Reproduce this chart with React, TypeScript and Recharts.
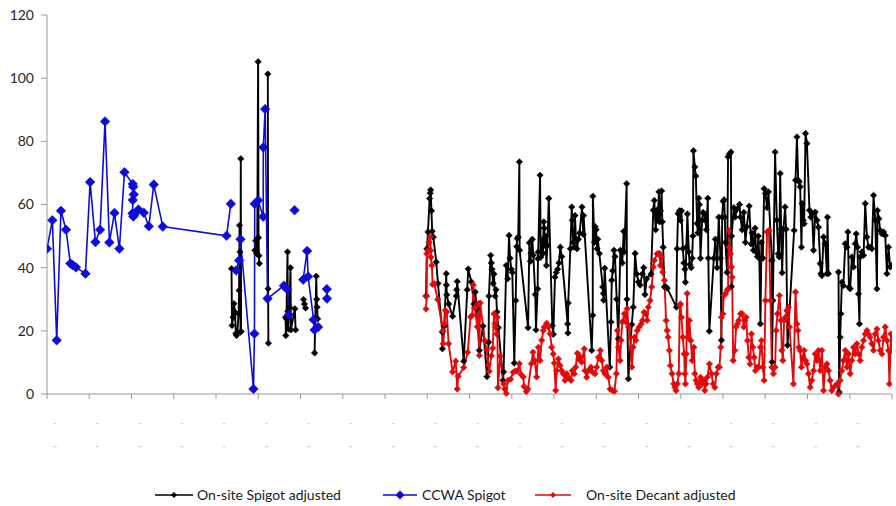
import { CartesianGrid, Line, LineChart, XAxis, YAxis } from "recharts";

// day index along the (unlabelled) date axis, value
type Row = [number, number | null];

const ccwaSpigot: Row[] = [
  [0, 46], [3.8, 55], [6.9, 17], [9.9, 58], [13.5, 52], [16.6, 41.3], [18.3, 40.8], [20.6, 40.1],
  [27.3, 38.1], [30.6, 67.1], [34.4, 48.1], [37.7, 52], [41.2, 86.3], [44.3, 48], [47.9, 57.3],
  [51.4, 46], [55, 70.2], [60.9, 66.5], [61.2, 65.6], [61.6, 63.2], [60.9, 61.4], [60.7, 57.2],
  [61.3, 56.2], [62, 56.7], [64.9, 58.4], [68.7, 57.4], [72.3, 53.1], [75.8, 66.3], [82.2, 53],
  [127.5, 50.1], [130.5, 60.2], [132, null], [134.3, 39.1], [136.4, 42.3], [137.4, 49],
  [146.6, 1.6], [147.3, 19.1], [147.5, 60.2], [149.9, 61.3], [153.5, 56.1], [153.6, 78.1],
  [154.9, 90.2], [156.6, 30.2], [168.2, 34.3], [170.5, 33.2], [171.9, 25.1], [173.5, null],
  [175.8, 58.2], [178, null], [181.9, 36.2], [184.7, 45.3], [185.4, 37.2], [189.3, 23.5],
  [190, 20.3], [192.5, 21.2], [195, null], [198.7, 33.2], [198.8, 30.2],
];

const spigotFirstRun: Row[] = [
  [131, 39.7], [131.4, 21.7], [132.1, 24.3], [132.8, 28.6], [133.5, 25.9], [134.1, 19.1],
  [134.6, 18.5], [135.2, 19.5], [136, 25.4], [136.4, 32.8], [136.7, 53.4], [137, 45],
  [137.4, 19.6], [137.6, 74.5], [137.8, 19.8], [140, null],
  [147.6, 45.5], [148.2, 48.5], [148.8, 44.5], [149.3, 49.2], [149.9, 105.2], [150.2, 49.5],
  [150.5, 43.8], [150.8, 41.3], [153, null],
  [156.8, 101.3], [157, 33.3], [157.2, 16.1], [160, null],
  [169.4, 24.3], [169.6, 18.5], [170, 23.8], [170.8, 45], [171, 26.2], [171.3, 20.6],
  [172.2, 27.5], [172.9, 40], [173.2, 20.3], [176, 27], [176.5, 20.3], [179, null],
  [182.2, 29.9], [182.8, 28.5], [183.6, 27.2], [186, null],
  [190, 13], [190.5, 24], [191.2, 37.3], [191.5, 30], [191.8, 27.5], [192.2, 23.8], [230, null],
];

const spigotSecondRun: Row[] = [
  [269.1, 31], [269.8, 46], [270.5, 51.3], [271.7, 61.9], [272.1, 63.6], [272.4, 64.6], [273, 58],
  [273.5, 51.5], [274.3, 49.7], [276.4, 41.8], [277.6, 35], [280.7, 19.6], [280.8, 14.3],
  [282.1, 21.5], [283.5, 38.1], [283.6, 34.5], [283.9, 31.4], [285.2, 28.5], [288, 24.6],
  [290.6, 31], [290.9, 33], [291.3, 35.6], [295.9, 10.4], [298.4, 33], [299.1, 39.6],
  [301.3, 35.5], [303.2, 28.5], [304.1, 32.3], [305.1, 27], [307, 13.8], [309.6, 21.5],
  [312.4, 5.5], [313.6, 16.4], [313.8, 31], [315, 43.9], [315.5, 41.5], [316, 39.5],
  [316.7, 35], [317.4, 38], [318.1, 31], [318.8, 33], [319.5, 26], [320.5, 21], [323.8, 4.3],
  [324.2, 7], [326.1, 40.7], [327.1, 36.5], [328.1, 50.2], [328.8, 43], [329.7, 39.5],
  [330.4, 38.5], [331.8, 9.8], [332.8, 29.6], [333.5, 46.7], [333.9, 49.2], [334.6, 49.7],
  [335.4, 73.5], [335.6, 45.5], [341.6, 21], [342.5, 47.9], [343.2, 42], [343.7, 44.5],
  [344.6, 49], [345.3, 44], [346.7, 31.5], [347.2, 20.3], [348.4, 33.3], [348.6, 42.8],
  [348.8, 45], [350.1, 69.3], [350.6, 43.3], [351.3, 45], [351.7, 48.7], [352.2, 44.5],
  [352.7, 54.5], [353.1, 52.5], [353.6, 47], [354.1, 50], [354.6, 40.7], [355.3, 47],
  [356.3, 61.9], [358.8, 21.7], [359.5, 18.9], [360.7, 37], [361.6, 38.5], [362.6, 39.5],
  [363.5, 41.5], [364.5, 46.5], [365.5, 43.5], [369.7, 22.2], [369.9, 19.3], [370.1, 28.8],
  [371.6, 46], [372.6, 59.2], [373, 55], [373.7, 48], [374.4, 46.5], [374.9, 56.5], [375.6, 49],
  [376.3, 46], [377.3, 49], [378.2, 51], [379.9, 59.2], [380.8, 50.5], [381, 56.5],
  [386.8, 13.8], [387.5, 24.9], [387.6, 62.6], [388.7, 48], [389.2, 53], [389.9, 52],
  [390.6, 46], [391.1, 49], [392.2, 44.5], [394.6, 33.9], [395, 31.8], [395.3, 29.7], [396, 39.8],
  [399.6, 8.5], [400.5, 22.8], [401, 36], [401.7, 39], [402.6, 45.5], [403.3, 43.5], [404.5, 30],
  [405.7, 17.5], [407.1, 45.5], [408.5, 41.5], [409.5, 51.5], [409.9, 45], [411.6, 66.6],
  [411.8, 30], [412.8, 4.8], [415.2, 22], [416.3, 27.5], [417.6, 44.5], [418.8, 38],
  [419.9, 35.5], [421.1, 34.5], [422.7, 38], [423.7, 40], [424.6, 31.5], [425.8, 36.5],
  [428.9, 38], [430.5, 58.2], [431.2, 61.3], [432.2, 52], [432.9, 58.2], [433.6, 55], [434.5, 64],
  [435, 54.5], [435.7, 58], [436.4, 64.3], [436.9, 54.5], [437.5, 46.5], [438.4, 33.9],
  [439.3, 34], [440.4, 33.5], [446.9, 27.5], [447.4, 46], [448.1, 57.1], [449, 58], [449.8, 55],
  [450.5, 58], [451.5, 46], [452.2, 41.5], [452.9, 39.5], [453.3, 35.4], [454, 46.5], [454.7, 57],
  [455.7, 45], [456.4, 41], [457.4, 40], [458.1, 43], [458.6, 50], [459, 77], [460, 71.9],
  [460.7, 69], [461.6, 54], [462.1, 51], [462.8, 62], [463.3, 60], [464, 43], [465.2, 55],
  [465.9, 57.5], [466.8, 57], [467.5, 55], [468.2, 52], [469.2, 62], [469.6, 43], [470.3, 19.9],
  [473.5, 43], [474.6, 49], [475.8, 40], [477, 56], [478.2, 43], [478.9, 17], [479.4, 56],
  [480.1, 61], [480.8, 61.5], [481.3, 56], [481.7, 48], [482.9, 38.5], [483.6, 75.1],
  [484.6, 76], [485.6, 76.6], [486, 34], [486.1, 50], [487.7, 59], [488.6, 56], [490, 58.5],
  [491.7, 60], [492.4, 56], [493.6, 52], [494.8, 57.5], [495.9, 48], [496.9, 53], [498.6, 59.5],
  [500, 47.5], [500.7, 51], [501.6, 45.5], [502.8, 52.5], [503.5, 45], [504.4, 43.5],
  [505.1, 50], [505.8, 43], [506.6, 22.2], [507.3, 48], [508.3, 43], [509.2, 65], [510.1, 63.5],
  [511.3, 59], [512.3, 64], [514.7, 42.3], [514.8, 10.1], [515.4, 29.6], [517, 76.6],
  [518.2, 55], [519.2, 44.4], [519.9, 43.4], [520.6, 69.8], [521.3, 52.2], [522, 38.4],
  [522.9, 52.2], [524.1, 59.2], [524.8, 52.2], [525.8, 15.4], [530.5, 51.8], [531.5, 67.7],
  [532.5, 81.4], [533.4, 67.7], [534.1, 67.2], [534.8, 65.6], [535.7, 46.5], [536.2, 60.3],
  [536.9, 55], [537.6, 53.9], [538.6, 82.5], [539.6, 79.3], [541.4, 58.2], [542.4, 56],
  [543.3, 57.1], [544.3, 45.5], [545.5, 57.6], [546.7, 55], [547.8, 52.8], [549, 41.3],
  [549.5, 38.1], [550.2, 37.5], [551.4, 49.7], [552.6, 47.6], [553.8, 38.1], [554.2, 56],
  [554.9, 38.1], [558, null], [562, 38.6], [562.5, 0.6], [563.2, 18], [563.7, 25.4],
  [564.4, 35.4], [565.5, 34.3], [566.8, 47.6], [568, 46.5], [568.7, 51.3], [569.4, 33.8],
  [570.3, 33.3], [571.5, 43.4], [572.7, 40.2], [573.9, 47.6], [574.6, 50.7], [575.5, 46.5],
  [576.2, 31.7], [576.9, 22.2], [577.4, 43.4], [578.6, 45], [579.8, 43.9], [581, 60.3],
  [582.2, 49.7], [583.3, 46.5], [584.5, 46.5], [585.7, 46], [586.9, 62.9], [588.1, 55],
  [589.3, 33.3], [589.7, 58.1], [590.7, 55.5], [591.6, 51.8], [592.8, 50.7], [594, 51.3],
  [595.2, 50.2], [596.4, 38.1], [597.5, 46.5], [598.7, 40.2], [599.9, 40.7],
];

const onsiteDecant: Row[] = [
  [269.1, 26.9], [269.6, 31], [269.7, 44.4], [270.5, 45.4], [271.2, 48], [272.1, 49.8],
  [272.5, 45.4], [272.6, 43.3], [273.3, 40.7], [273.8, 34.7], [275, 34.9], [277.4, 29.9],
  [281.1, 20.1], [281.3, 15.9], [282.1, 22.2], [282.8, 26.5], [283.8, 26], [285.2, 15.9],
  [288, 7], [290.2, 10.4], [291.3, 1.6], [292, 5.6], [295.9, 8.4], [298.7, 13.2], [300.8, 24.4],
  [302, 24.9], [302.7, 34.5], [303.7, 27.3], [305.5, 21.3], [306.2, 28.6], [307, 12.2],
  [307.6, 28.8], [310.8, 16.9], [312.2, 14], [313.3, 9.3], [314, 7.2], [315.5, 12.1],
  [316.5, 14.5], [317.4, 25.4], [318.1, 22.2], [318.6, 21.1], [319.3, 19], [319.7, 24.3],
  [320.2, 2], [321.9, 12], [324.3, 3.2], [325, 1.6], [326.1, 0.2], [327.3, 4.3], [329.2, 4.7],
  [331.1, 6.9], [332.5, 7.3], [333.9, 7.3], [335.4, 9.6], [336.6, 6.2], [338.2, 5.4],
  [338.7, 2.4], [340.3, 0.8], [341.5, 1.6], [343.9, 9.6], [345.1, 13.2], [346.3, 10.6],
  [347.7, 5.4], [348.9, 14.8], [350.1, 10.6], [351.3, 17], [352.4, 20.1], [353.1, 21.2],
  [354.8, 22.4], [356, 21.2], [357.2, 19.1], [358.4, 14.8], [359.5, 12.7], [360.2, 9.8],
  [361.2, 1.1], [361.9, 7.4], [363.1, 11.1], [364.3, 9], [365.5, 7.4], [366.6, 6.4], [367.8, 4.3],
  [369, 6.4], [370.2, 5.3], [372.1, 4.3], [373, 7.4], [374.4, 6.4], [375.4, 8.5], [376.6, 12.9],
  [377.6, 11.1], [378.5, 11.8], [379.7, 10.1], [381.5, 14.3], [382, 7.4], [383.2, 5.3],
  [384.4, 7.4], [386.3, 8.5], [387.5, 6.9], [389.1, 6.4], [390.3, 8.5], [391.5, 11.6],
  [392.9, 13.8], [393.9, 10.6], [395, 7.4], [396.2, 6.4], [397.5, 8.5], [398.6, 5.3],
  [399.8, 1.6], [401.4, 1.1], [402.9, 0.9], [404.3, 6.4], [405, 20.1], [405.7, 14.8],
  [406.9, 10.6], [407.6, 17], [408.5, 22.8], [410, 25.4], [411, 22.8], [411.9, 27], [412.9, 21.2],
  [414.1, 18], [415.3, 8.5], [416.2, 14.8], [417.2, 18], [418.1, 17], [419.1, 20.1],
  [420.5, 21.2], [421.9, 22.2], [422.8, 23.3], [424, 25.9], [425.2, 25.4], [426.1, 23.3],
  [427, 27.5], [428.2, 29.6], [429.4, 33.9], [430.5, 40.2], [431.3, 42.3], [433.2, 44.4],
  [434.8, 44.6], [435.5, 40.7], [436.2, 43.4], [437.2, 38.6], [438.4, 36], [439.6, 23.3],
  [440.3, 20.1], [441, 18], [441.9, 13.8], [442.6, 9], [443.8, 6.4], [445, 3.2], [445.8, 2.1],
  [446.7, 1.1], [447.6, 3.2], [448.6, 6.4], [449.3, 28], [449.8, 28.5], [450.5, 24.3],
  [451.5, 18], [452.4, 12.7], [452.9, 6.4], [453.3, 3.2], [454, 12.7], [454.5, 31.8],
  [455.2, 18], [456.1, 23.3], [457.1, 16.9], [458.1, 10.6], [459.3, 14.8], [460, 6.4],
  [460.9, 4.3], [461.8, 3.2], [462.8, 2.1], [464, 5.3], [465.2, 3.2], [466.4, 4.3], [467.1, 1.1],
  [468, 3.2], [468.9, 5.3], [470.4, 9.5], [471.8, 6.4], [473, 3.2], [474.2, 2.1], [475.3, 6.4],
  [476.5, 8.5], [477.5, 8.5], [478.4, 14.8], [478.9, 24.3], [479.9, 25.4], [480.6, 31.2],
  [481.7, 31.7], [482.9, 32.8], [483.6, 33.3], [484.1, 51.8], [484.5, 46.5], [485.3, 44.4],
  [486, 40.2], [486.5, 37], [487.2, 10.6], [488.4, 13.8], [489.3, 21.2], [490.3, 22.2],
  [491.2, 23.3], [492.4, 25.4], [493.6, 25.4], [494.8, 21.2], [495.5, 23.3], [496.4, 24.3],
  [497.4, 16.9], [498.3, 11.6], [499.3, 9.5], [500.2, 19], [501.2, 14.8], [502.1, 11.6],
  [503, 7.4], [504.2, 8.5], [505.4, 8.5], [506.6, 14.8], [507.3, 16.9], [508.3, 8.5],
  [509.2, 4.3], [510.1, 29.6], [511.3, 51.3], [512.6, 51.8], [513.7, 29.6], [514.7, 8.5],
  [515.8, 6.4], [517, 8.5], [517.7, 20.1], [518.7, 25.4], [520.1, 31.2], [521.1, 23.3],
  [521.8, 13.8], [522.5, 10.6], [523.4, 23.3], [524.3, 24.3], [525.3, 26.4], [526.5, 27.5],
  [527.2, 21.2], [530, 3.2], [531.5, 32.3], [532.5, 22.2], [533.2, 20.1], [533.9, 14.8],
  [534.8, 13.8], [535.7, 8.5], [536.7, 11.6], [537.6, 13.8], [538.6, 10.6], [539.6, 9.5],
  [540.7, 6.4], [541.9, 2.1], [543.1, 4.3], [544.3, 7.4], [545.5, 12.7], [546.7, 10.6],
  [547.8, 13.8], [549, 7.4], [550.2, 13.8], [551.4, 1.1], [552.6, 8.5], [553.8, 9.5],
  [554.9, 7.4], [556.1, 4.3], [557.3, 1.1], [558.5, 2.1], [560.9, 3.2], [562, 0], [563.2, 4.3],
  [564.4, 7.4], [565.5, 10.6], [566.8, 13.8], [568, 8.5], [569.1, 12.7], [570.3, 6.4],
  [571.5, 10.6], [572.7, 14.8], [573.9, 12.7], [575.1, 15.9], [576.2, 12.7], [577.4, 10.6],
  [578.6, 14.8], [579.8, 16.9], [581, 19], [582.2, 20.1], [583.3, 19], [584.5, 18],
  [585.7, 15.9], [586.9, 13.8], [588.1, 19], [589.3, 20.6], [590.4, 16.9], [591.6, 13.8],
  [592.8, 12.7], [594, 18], [595.2, 21.2], [596.4, 16.9], [597.5, 13.8], [598.2, 3.2],
  [599.2, 19], [599.9, 13.8],
];

const xTicks = [0, 30, 60, 90, 120, 150, 180, 210, 240, 270, 300, 330, 360, 390, 420, 450, 480, 510, 540, 570, 600];
const yTicks = [0, 20, 40, 60, 80, 100, 120];

const BLACK = "#000000";
const BLUE = "#0d0dd6";
const RED = "#e10a0a";
const AXIS = "#9a9a9a";
const FONT = "Lato, 'Liberation Sans', sans-serif";

const toPoints = (rows: Row[]) => rows.map(([day, value]) => ({ day, value }));

const diamondDot = (r: number, color: string) => (props: any) => {
  const { cx, cy, index } = props;
  if (cx == null || cy == null || props.value == null) return <g key={`e-${index}`} />;
  return (
    <polygon
      key={`d-${index}`}
      points={`${cx},${cy - r} ${cx + r},${cy} ${cx},${cy + r} ${cx - r},${cy}`}
      fill={color}
      stroke={color}
      strokeWidth={0.6}
    />
  );
};

// the date labels under the axis come out as two rows of faint dashes
function DateTick(props: any) {
  const { x, y, payload } = props;
  if (payload.value >= 600) return <g />;
  return (
    <g fill="#d4d4d4" fontSize={11} fontWeight={700} fontFamily="'Liberation Sans', sans-serif">
      <text x={x + 8} y={y + 25} textAnchor="middle">-</text>
      <text x={x + 8} y={y + 48} textAnchor="middle">-</text>
    </g>
  );
}

function LegendKey({ color, r, width }: { color: string; r: number; width: number }) {
  const mid = width / 2;
  return (
    <svg width={width} height={12} style={{ display: "block" }}>
      <line x1={0} y1={6} x2={width} y2={6} stroke={color} strokeWidth={1.6} />
      <polygon points={`${mid},${6 - r} ${mid + r},6 ${mid},${6 + r} ${mid - r},6`} fill={color} />
    </svg>
  );
}

const legendItems = [
  { label: "On-site Spigot adjusted", color: BLACK, r: 3, keyLeft: 155, keyWidth: 38, textLeft: 197 },
  { label: "CCWA Spigot", color: BLUE, r: 4.5, keyLeft: 383, keyWidth: 34, textLeft: 422 },
  { label: "On-site Decant adjusted", color: RED, r: 3, keyLeft: 535, keyWidth: 36, textLeft: 586 },
];

export default function App() {
  return (
    <div style={{ position: "relative", width: 896, height: 506, background: "#fff", fontFamily: FONT }}>
      <style>{`body{margin:0;}`}</style>
      <LineChart width={896} height={454} margin={{ top: 15, right: 4, left: 0, bottom: 0 }}>
        <CartesianGrid horizontal={false} vertical={false} />
        <XAxis
          type="number"
          dataKey="day"
          domain={[0, 600]}
          ticks={xTicks}
          interval={0}
          height={60}
          tickSize={5}
          stroke={AXIS}
          tick={<DateTick />}
          allowDataOverflow
        />
        <YAxis
          type="number"
          domain={[0, 120]}
          ticks={yTicks}
          interval={0}
          width={47}
          tickSize={6}
          tickMargin={7}
          stroke={AXIS}
          tick={{ fill: "#262626", fontSize: 14, fontFamily: FONT }}
        />
        <Line
          data={toPoints([...spigotFirstRun, ...spigotSecondRun])}
          dataKey="value"
          name="On-site Spigot adjusted"
          stroke={BLACK}
          strokeWidth={1.9}
          dot={diamondDot(3.2, BLACK)}
          activeDot={false}
          isAnimationActive={false}
        />
        <Line
          data={toPoints(ccwaSpigot)}
          dataKey="value"
          name="CCWA Spigot"
          stroke={BLUE}
          strokeWidth={1.6}
          dot={diamondDot(4.8, BLUE)}
          activeDot={false}
          isAnimationActive={false}
        />
        <Line
          data={toPoints(onsiteDecant)}
          dataKey="value"
          name="On-site Decant adjusted"
          stroke={RED}
          strokeWidth={1.9}
          dot={diamondDot(3.2, RED)}
          activeDot={false}
          isAnimationActive={false}
        />
      </LineChart>
      {legendItems.map((item) => (
        <div key={item.label}>
          <div style={{ position: "absolute", left: item.keyLeft, top: 489 }}>
            <LegendKey color={item.color} r={item.r} width={item.keyWidth} />
          </div>
          <div
            style={{
              position: "absolute",
              left: item.textLeft,
              top: 486,
              fontSize: 14,
              lineHeight: "18px",
              color: "#1a1a1a",
              whiteSpace: "nowrap",
            }}
          >
            {item.label}
          </div>
        </div>
      ))}
    </div>
  );
}
